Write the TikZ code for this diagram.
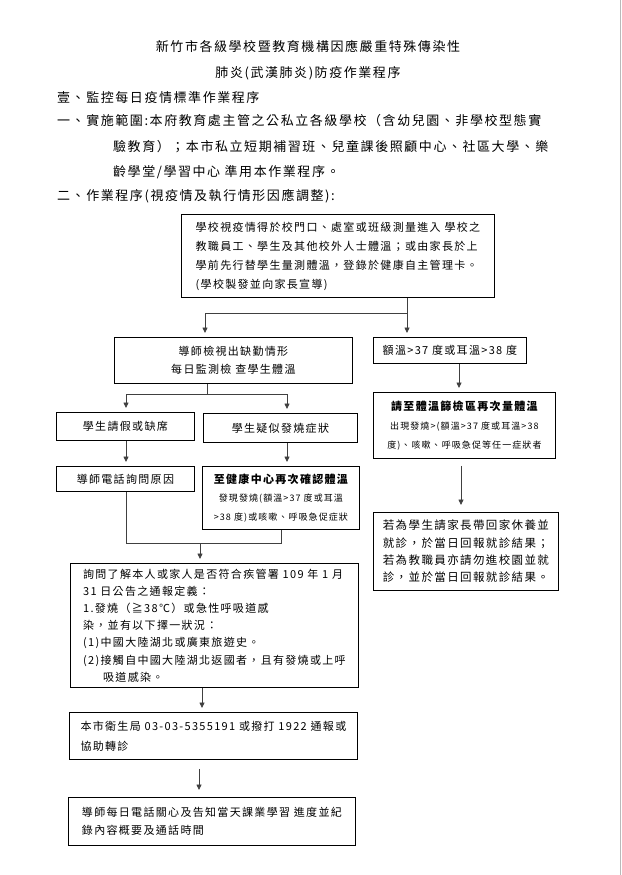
\documentclass[tikz,border=0pt]{standalone}
\usepackage{fontspec}
\setmainfont[LetterSpace=12]{Noto Sans CJK TC}
\usetikzlibrary{arrows.meta}
\tikzset{
  box/.style={draw, line width=0.8pt, inner sep=0pt, anchor=north west, font=\fontsize{11}{19}\selectfont},
  conn/.style={draw=black!75, line width=0.8pt},
  arr/.style={conn, -{Triangle[length=5.5pt,width=5pt]}, shorten >=4pt},
  hdr/.style={anchor=west, inner sep=0pt, font=\fontsize{13}{13}\selectfont},
}
\begin{document}
\begin{tikzpicture}[x=1pt,y=-1pt]
\useasboundingbox (0,0) rectangle (621,875);
\fill[white] (0,0) rectangle (621,875);
\draw[gray!55, line width=1pt] (620.5,0) -- (620.5,875);

% header
\node[hdr, anchor=center] (t1) at (308,46) {新竹市各級學校暨教育機構因應嚴重特殊傳染性};
\node[hdr, anchor=center] (t2) at (308,73) {肺炎(武漢肺炎)防疫作業程序};
\node[hdr] (h1) at (57,98) {壹、監控每日疫情標準作業程序};
\node[hdr] (l1) at (57,121) {一、實施範圍:本府教育處主管之公私立各級學校（含幼兒園、非學校型態實};
\node[hdr] (l2) at (113,147) {驗教育）；本市私立短期補習班、兒童課後照顧中心、社區大學、樂};
\node[hdr] (l3) at (113,172) {齡學堂/學習中心 準用本作業程序。};
\node[hdr] (l4) at (57,196) {二、作業程序(視疫情及執行情形因應調整):};

% boxes
\node[box, minimum width=313pt, minimum height=83pt, align=left] (A) at (181,214)
  {學校視疫情得於校門口、處室或班級測量進入 學校之\\教職員工、學生及其他校外人士體溫；或由家長於上\\學前先行替學生量測體溫，登錄於健康自主管理卡。\\(學校製發並向家長宣導)};
\node[box, minimum width=238pt, minimum height=46pt, align=center, font=\fontsize{11}{18}\selectfont] (B) at (114,337)
  {導師檢視出缺勤情形\\每日監測檢 查學生體溫};
\node[box, minimum width=153pt, minimum height=26pt, align=center] (C) at (373,337)
  {額溫>37 度或耳溫>38 度};
\node[box, minimum width=182pt, minimum height=66pt, align=center, font=\fontsize{9}{19}\selectfont] (D) at (373,392)
  {{\bfseries\fontsize{11}{19}\selectfont 請至體溫篩檢區再次量體溫}\\出現發燒>(額溫>37 度或耳溫>38\\度)、咳嗽、呼吸急促等任一症狀者};
\node[box, minimum width=138pt, minimum height=28pt, align=center] (E) at (56,412)
  {學生請假或缺席};
\node[box, minimum width=154pt, minimum height=29pt, align=center] (F) at (203,413)
  {學生疑似發燒症狀};
\node[box, minimum width=138pt, minimum height=25pt, align=center] (E2) at (56,466)
  {導師電話詢問原因};
\node[box, minimum width=157pt, minimum height=63pt, align=center, font=\fontsize{9}{18.5}\selectfont] (F2) at (202,466)
  {{\bfseries\fontsize{11}{18.5}\selectfont 至健康中心再次確認體溫}\\發現發燒(額溫>37 度或耳溫\\>38 度)或咳嗽、呼吸急促症狀};
\node[box, minimum width=185pt, minimum height=78pt, align=left, font=\fontsize{11.5}{17.4}\selectfont] (J) at (373,512)
  {若為學生請家長帶回家休養並\\就診，於當日回報就診結果；\\若為教職員亦請勿進校園並就\\診，並於當日回報就診結果。};
\node[box, minimum width=288pt, minimum height=124pt, align=left, font=\fontsize{11}{17.2}\selectfont] (G) at (70,563)
  {詢問了解本人或家人是否符合疾管署 109 年 1 月\\31 日公告之通報定義：\\1.發燒（≧38℃）或急性呼吸道感\\染，並有以下擇一狀況：\\(1)中國大陸湖北或廣東旅遊史。\\(2)接觸自中國大陸湖北返國者，且有發燒或上呼\\\hspace*{20pt}吸道感染。};
\node[box, minimum width=288pt, minimum height=47pt, align=left, font=\fontsize{11}{20}\selectfont] (H) at (69,712)
  {本市衛生局 03-03-5355191 或撥打 1922 通報或\\協助轉診};
\node[box, minimum width=287pt, minimum height=48pt, align=left, font=\fontsize{11}{18}\selectfont] (I) at (68,797)
  {導師每日電話關心及告知當天課業學習 進度並紀\\錄內容概要及通話時間};

% connectors
\coordinate (j1) at (407,313);
\coordinate (j1l) at (205,313);
\draw[conn] (j1 |- A.south) -- (j1) -- (j1l);
\draw[arr] (j1) -- (j1 |- C.north);
\draw[arr] (j1l) -- (j1l |- B.north);

\coordinate (j2) at (207,394);
\coordinate (j2l) at (126,394);
\coordinate (j2r) at (287,394);
\draw[conn] (j2 |- B.south) -- (j2);
\draw[conn] (j2l) -- (j2r);
\draw[arr] (j2l) -- (j2l |- E.north);
\draw[arr] (j2r) -- (j2r |- F.north);
\draw[arr] (j2l |- E.south) -- (j2l |- E2.north);
\draw[arr] (j2r |- F.south) -- (j2r |- F2.north);

\coordinate (cx) at (459,0);
\draw[arr] (cx |- C.south) -- (cx |- D.north);
\coordinate (dx) at (461,0);
\draw[arr, shorten <=7pt, shorten >=7pt] (dx |- D.south) -- (dx |- J.north);

\coordinate (j3l) at (126,543);
\coordinate (j3r) at (281,543);
\coordinate (j3) at (200,543);
\draw[conn] (j3l |- E2.south) -- (j3l) -- (j3r) -- (j3r |- F2.south);
\draw[arr] (j3) -- (j3 |- G.north);

\coordinate (gx) at (202,0);
\draw[arr] (gx |- G.south) -- (gx |- H.north);
\coordinate (hx) at (199,0);
\draw[arr, shorten <=9pt, shorten >=7pt] (hx |- H.south) -- (hx |- I.north);
\end{tikzpicture}
\end{document}
